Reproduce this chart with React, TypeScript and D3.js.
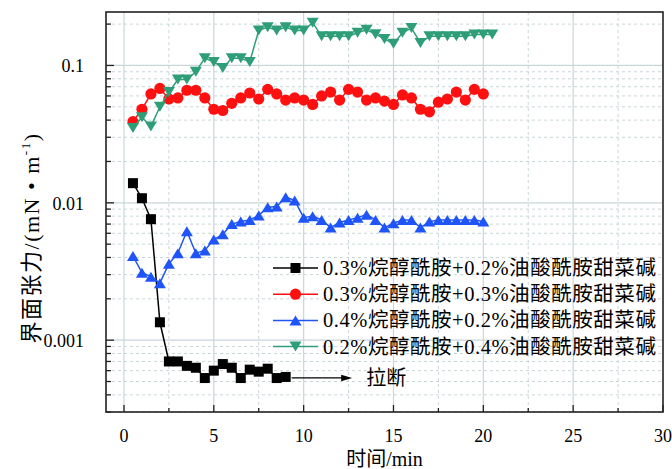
import React, { useEffect, useRef } from "react";
import * as d3 from "d3";

// sampling times (min), shared by all four runs
const times = [
  0.5, 1, 1.5, 2, 2.5, 3, 3.5, 4, 4.5, 5, 5.5, 6, 6.5, 7, 7.5, 8, 8.5, 9, 9.5, 10,
  10.5, 11, 11.5, 12, 12.5, 13, 13.5, 14, 14.5, 15, 15.5, 16, 16.5, 17, 17.5, 18,
  18.5, 19, 19.5, 20, 20.5,
];

// 0.3% + 0.2% (breaks after 9 min)
const seriesA = [
  0.0139, 0.0108, 0.0076, 0.00135, 0.0007, 0.0007, 0.00065, 0.00063, 0.00053,
  0.0006, 0.00067, 0.00063, 0.00053, 0.00061, 0.00059, 0.00062, 0.00053, 0.00054,
];
// 0.3% + 0.3%
const seriesB = [
  0.039, 0.048, 0.062, 0.068, 0.057, 0.058, 0.066, 0.066, 0.058, 0.048, 0.047,
  0.053, 0.058, 0.063, 0.057, 0.067, 0.062, 0.056, 0.058, 0.056, 0.052, 0.06,
  0.064, 0.056, 0.067, 0.064, 0.056, 0.058, 0.055, 0.052, 0.061, 0.058, 0.048,
  0.046, 0.054, 0.057, 0.064, 0.056, 0.067, 0.062,
];
// 0.4% + 0.2%
const seriesC = [
  0.0041, 0.0031, 0.0029, 0.0026, 0.0036, 0.0043, 0.0062, 0.0043, 0.0045, 0.0054,
  0.0059, 0.007, 0.0073, 0.0075, 0.0081, 0.0093, 0.0094, 0.011, 0.0104, 0.0078,
  0.008, 0.0075, 0.0066, 0.0072, 0.0075, 0.0078, 0.0082, 0.0075, 0.0066, 0.0071,
  0.0075, 0.0075, 0.0066, 0.0073, 0.0075, 0.0075, 0.0075, 0.0075, 0.0075, 0.0073,
];
// 0.2% + 0.4%
const seriesD = [
  0.035, 0.042, 0.036, 0.05, 0.064, 0.079, 0.079, 0.09, 0.113, 0.106, 0.096, 0.113,
  0.113, 0.106, 0.18, 0.19, 0.18, 0.19, 0.18, 0.18, 0.205, 0.163, 0.163, 0.163,
  0.163, 0.173, 0.182, 0.169, 0.156, 0.144, 0.173, 0.187, 0.146, 0.163, 0.163,
  0.163, 0.163, 0.163, 0.168, 0.168, 0.168,
];

const legendLabels = [
  "0.3%烷醇酰胺+0.2%油酸酰胺甜菜碱",
  "0.3%烷醇酰胺+0.3%油酸酰胺甜菜碱",
  "0.4%烷醇酰胺+0.2%油酸酰胺甜菜碱",
  "0.2%烷醇酰胺+0.4%油酸酰胺甜菜碱",
];

const xTicks = [0, 5, 10, 15, 20, 25, 30];
const yTicks = [0.001, 0.01, 0.1];
const breakLabel = "拉断";

const FONT = "'Liberation Serif', 'Times New Roman', 'Noto Sans CJK SC', serif";

const App = () => {
  const ref = useRef<SVGSVGElement>(null);

  useEffect(() => {
    const svg = d3.select(ref.current);
    svg.selectAll("*").remove();

    const W = 672;
    const H = 469;
    const margin = { top: 12, right: 9, bottom: 57, left: 106 };
    const x0 = margin.left;
    const x1 = W - margin.right;
    const y0 = margin.top;
    const y1 = H - margin.bottom;

    const x = d3.scaleLinear().domain([-1, 30]).range([x0, x1]);
    const y = d3.scaleLog().domain([0.0003, 0.245]).range([y1, y0]);

    const gridColor = "#c9d6d9";

    // minor log positions
    const minorY: number[] = [];
    [0.0001, 0.001, 0.01, 0.1].forEach((d) => {
      for (let k = 2; k <= 9; k++) {
        const v = d * k;
        if (v >= 0.0003 && v <= 0.245) minorY.push(v);
      }
    });
    const minorX = [2.5, 7.5, 12.5, 17.5, 22.5, 27.5];

    // grid
    const grid = svg.append("g");
    grid
      .selectAll(".gy")
      .data(minorY)
      .enter()
      .append("line")
      .attr("x1", x0)
      .attr("x2", x1)
      .attr("y1", (d) => y(d))
      .attr("y2", (d) => y(d))
      .attr("stroke", gridColor)
      .attr("stroke-width", 1)
      .attr("stroke-dasharray", "3,3");
    grid
      .selectAll(".gx")
      .data(minorX)
      .enter()
      .append("line")
      .attr("x1", (d) => x(d))
      .attr("x2", (d) => x(d))
      .attr("y1", y0)
      .attr("y2", y1)
      .attr("stroke", gridColor)
      .attr("stroke-width", 1)
      .attr("stroke-dasharray", "3,3");
    grid
      .selectAll(".gY")
      .data(yTicks)
      .enter()
      .append("line")
      .attr("x1", x0)
      .attr("x2", x1)
      .attr("y1", (d) => y(d))
      .attr("y2", (d) => y(d))
      .attr("stroke", gridColor)
      .attr("stroke-width", 1.2);
    grid
      .selectAll(".gX")
      .data(xTicks.filter((d) => d < 30))
      .enter()
      .append("line")
      .attr("x1", (d) => x(d))
      .attr("x2", (d) => x(d))
      .attr("y1", y0)
      .attr("y2", y1)
      .attr("stroke", gridColor)
      .attr("stroke-width", 1.2);

    // series
    const series = [
      { vals: seriesA, color: "#000000", shape: "square" },
      { vals: seriesB, color: "#ff1010", shape: "circle" },
      { vals: seriesC, color: "#1f55f8", shape: "up" },
      { vals: seriesD, color: "#2e9e78", shape: "down" },
    ];

    const drawMarker = (g: any, shape: string, cx: number, cy: number, color: string) => {
      if (shape === "square") {
        g.append("rect")
          .attr("x", cx - 5)
          .attr("y", cy - 5)
          .attr("width", 10)
          .attr("height", 10)
          .attr("fill", color);
      } else if (shape === "circle") {
        g.append("circle").attr("cx", cx).attr("cy", cy).attr("r", 5.6).attr("fill", color);
      } else if (shape === "up") {
        g.append("path")
          .attr("d", `M${cx},${cy - 5}L${cx - 6},${cy + 5}L${cx + 6},${cy + 5}Z`)
          .attr("fill", color);
      } else {
        g.append("path")
          .attr("d", `M${cx},${cy + 5}L${cx - 6},${cy - 5}L${cx + 6},${cy - 5}Z`)
          .attr("fill", color);
      }
    };

    const line = d3
      .line<number>()
      .x((d, i) => x(times[i]))
      .y((d) => y(d));

    series.forEach((s) => {
      const g = svg.append("g");
      g.append("path")
        .datum(s.vals)
        .attr("fill", "none")
        .attr("stroke", s.color)
        .attr("stroke-width", 1.5)
        .attr("d", line);
      s.vals.forEach((v, i) => drawMarker(g, s.shape, x(times[i]), y(v), s.color));
    });

    // break arrow
    const lastT = times[seriesA.length - 1];
    const lastV = seriesA[seriesA.length - 1];
    const ay = y(lastV) + 1;
    const ax0 = x(lastT) + 6;
    const ax1 = x(12.7);
    svg
      .append("line")
      .attr("x1", ax0)
      .attr("x2", ax1 - 8)
      .attr("y1", ay)
      .attr("y2", ay)
      .attr("stroke", "#000")
      .attr("stroke-width", 1.2);
    svg
      .append("path")
      .attr("d", `M${ax1},${ay}L${ax1 - 11},${ay - 3.2}L${ax1 - 11},${ay + 3.2}Z`)
      .attr("fill", "#000");
    svg
      .append("text")
      .attr("x", ax1 + 14)
      .attr("y", ay + 7)
      .attr("font-family", FONT)
      .attr("font-size", 20)
      .text(breakLabel);

    // frame
    svg
      .append("rect")
      .attr("x", x0)
      .attr("y", y0)
      .attr("width", x1 - x0)
      .attr("height", y1 - y0)
      .attr("fill", "none")
      .attr("stroke", "#222")
      .attr("stroke-width", 1.6);

    // ticks (inward)
    const tickG = svg.append("g").attr("stroke", "#222").attr("stroke-width", 1.3);
    xTicks.forEach((d) => {
      tickG.append("line").attr("x1", x(d)).attr("x2", x(d)).attr("y1", y1).attr("y2", y1 - 7);
    });
    minorX.forEach((d) => {
      tickG.append("line").attr("x1", x(d)).attr("x2", x(d)).attr("y1", y1).attr("y2", y1 - 4);
    });
    yTicks.forEach((d) => {
      tickG.append("line").attr("x1", x0).attr("x2", x0 + 8).attr("y1", y(d)).attr("y2", y(d));
    });
    minorY.forEach((d) => {
      tickG.append("line").attr("x1", x0).attr("x2", x0 + 5).attr("y1", y(d)).attr("y2", y(d));
    });

    // tick labels
    svg
      .append("g")
      .selectAll("text")
      .data(xTicks)
      .enter()
      .append("text")
      .attr("x", (d) => x(d))
      .attr("y", y1 + 30)
      .attr("text-anchor", "middle")
      .attr("font-family", FONT)
      .attr("font-size", 18)
      .text((d) => String(d));
    svg
      .append("g")
      .selectAll("text")
      .data(yTicks)
      .enter()
      .append("text")
      .attr("x", 84)
      .attr("y", (d) => y(d) + 7)
      .attr("text-anchor", "end")
      .attr("font-family", FONT)
      .attr("font-size", 18)
      .text((d) => String(d));

    // axis titles
    svg
      .append("text")
      .attr("x", (x0 + x1) / 2)
      .attr("y", 466)
      .attr("text-anchor", "middle")
      .attr("font-family", FONT)
      .attr("font-size", 20)
      .text("时间/min");
    const yt = svg
      .append("text")
      .attr("transform", `translate(39,238) rotate(-90)`)
      .attr("text-anchor", "middle")
      .attr("font-family", FONT)
      .attr("font-size", 22)
      .attr("letter-spacing", 1.5);
    yt.append("tspan").text("界面张力/(mN • m");
    yt.append("tspan").attr("font-size", 13).attr("dy", -9).text("-1");
    yt.append("tspan").attr("dy", 9).text(")");

    // legend
    const leg = svg.append("g");
    legendLabels.forEach((lab, i) => {
      const ly = 268 + i * 26.2;
      const s = series[i];
      leg
        .append("line")
        .attr("x1", 273)
        .attr("x2", 318)
        .attr("y1", ly)
        .attr("y2", ly)
        .attr("stroke", s.color)
        .attr("stroke-width", 1.5);
      drawMarker(leg, s.shape, 295.5, ly, s.color);
      leg
        .append("text")
        .attr("x", 323)
        .attr("y", ly + 7)
        .attr("font-family", FONT)
        .attr("font-size", 20.5)
        .attr("letter-spacing", 0.55)
        .text(lab);
    });
  }, []);

  return (
    <svg
      ref={ref}
      width={672}
      height={469}
      style={{ position: "absolute", left: 0, top: 0, background: "#fff" }}
    />
  );
};

export default App;
